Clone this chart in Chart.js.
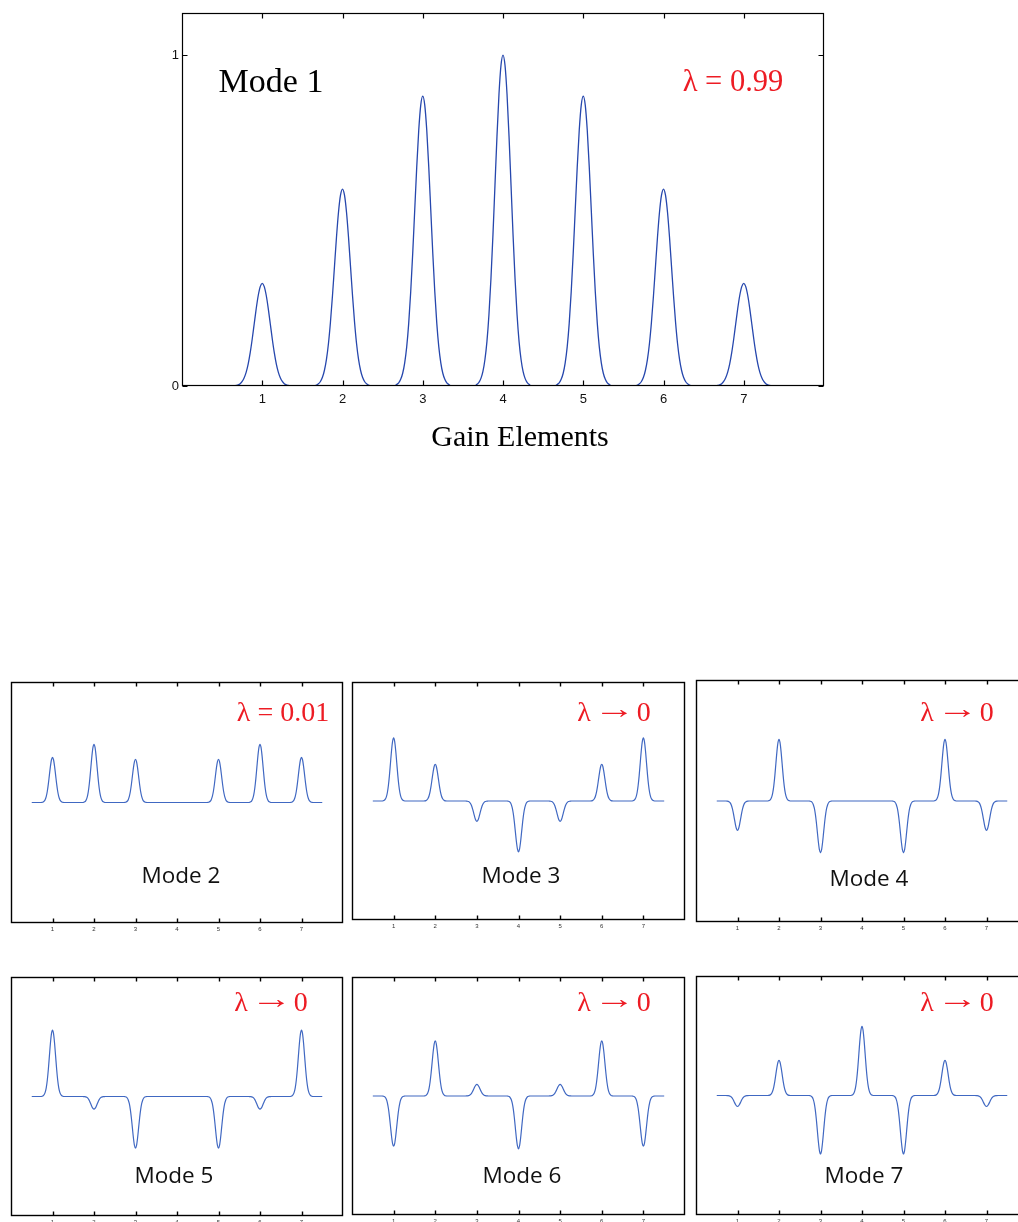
<!DOCTYPE html>
<html>
<head>
<meta charset="utf-8">
<script src="https://cdn.jsdelivr.net/npm/chart.js@4.4.1/dist/chart.umd.min.js"></script>
<style>
  body { margin: 0; background: #fff; width: 1018px; height: 1222px; overflow: hidden; position: relative; }
  canvas { position: absolute; }
  .lbl { position: absolute; transform: translate(-50%, -50%); white-space: pre; line-height: 1; }
  .serif { font-family: 'Liberation Serif', 'Times New Roman', serif; }
  .lam { color: #ed1c24; }
  .arrow { display: inline-block; transform: translateY(-3px) scaleX(1.5); margin: 0 2px; }
  .sans { font-family: 'Open Sans', 'Noto Sans', sans-serif; color: #111; }
</style>
</head>
<body>
<script>
// gain element positions and tick labels
const gainElements = [1, 2, 3, 4, 5, 6, 7];
const curveRange = [0.5, 7.5];
const mainYTicks = [0, 1];

// peak amplitude at each gain element
const mode1 = [0.31, 0.595, 0.876, 1.0, 0.876, 0.595, 0.31];
const mode2 = [0.375, 0.483, 0.359, 0, 0.359, 0.483, 0.375];
const mode3 = [0.53, 0.309, -0.171, -0.428, -0.171, 0.309, 0.53];
const mode4 = [-0.243, 0.51, -0.428, 0, -0.428, 0.51, -0.243];
const mode5 = [0.556, -0.106, -0.433, 0, -0.433, -0.106, 0.556];
const mode6 = [-0.422, 0.464, 0.097, -0.444, 0.097, 0.464, -0.422];
const mode7 = [-0.092, 0.294, -0.489, 0.578, -0.489, 0.294, -0.092];

// one side of a single peak (offset from element, relative height)
const mainPeakOffsets = [0, 0.025, 0.05, 0.075, 0.1, 0.125, 0.15, 0.175, 0.2, 0.225, 0.25, 0.275, 0.3, 0.325, 0.35];
const mainPeakShape = [1, 0.969, 0.882, 0.755, 0.607, 0.458, 0.325, 0.216, 0.135, 0.08, 0.044, 0.023, 0.011, 0.005, 0];
const smallPeakOffsets = [0, 0.025, 0.05, 0.075, 0.1, 0.125, 0.15, 0.175, 0.2, 0.225, 0.25, 0.275];
const smallPeakShape = [1, 0.946, 0.801, 0.607, 0.411, 0.249, 0.135, 0.066, 0.029, 0.011, 0.004, 0];

const modeNames = ['Mode 1', 'Mode 2', 'Mode 3', 'Mode 4', 'Mode 5', 'Mode 6', 'Mode 7'];
const eigenLabels = ['λ = 0.99', 'λ = 0.01', 'λ → 0', 'λ → 0', 'λ → 0', 'λ → 0', 'λ → 0'];
const xTitle = 'Gain Elements';

// page layout of the small panels (plot box on the page)
const smallPanels = [
  { amps: mode2, box: [11, 682, 332, 241], name: [181, 875], lam: [283, 712] },
  { amps: mode3, box: [352, 682, 333, 238], name: [521, 875], lam: [614, 712] },
  { amps: mode4, box: [696, 680, 332, 242], name: [869, 878], lam: [957, 712] },
  { amps: mode5, box: [11, 977, 332, 239], name: [174, 1175], lam: [271, 1002] },
  { amps: mode6, box: [352, 977, 333, 238], name: [522, 1175], lam: [614, 1002] },
  { amps: mode7, box: [696, 976, 332, 239], name: [864, 1175], lam: [957, 1002] }
];

function buildCurve(amps, offsets, shape) {
  const pts = [{ x: curveRange[0], y: 0 }];
  gainElements.forEach((c, i) => {
    for (let k = offsets.length - 1; k > 0; k--) pts.push({ x: c - offsets[k], y: amps[i] * shape[k] });
    for (let k = 0; k < offsets.length; k++) pts.push({ x: c + offsets[k], y: amps[i] * shape[k] });
  });
  pts.push({ x: curveRange[1], y: 0 });
  return pts;
}

// box round the plot with inward ticks, like the original figure
const framePlugin = {
  id: 'frame',
  afterDraw(chart, args, opts) {
    const { ctx, chartArea: a, scales } = chart;
    const l = Math.round(a.left) + 0.5, r = Math.round(a.right) - 0.5;
    const t = Math.round(a.top) + 0.5, b = Math.round(a.bottom) - 0.5;
    ctx.save();
    ctx.strokeStyle = '#000';
    ctx.lineWidth = opts.lineWidth || 1;
    ctx.strokeRect(l, t, r - l, b - t);
    ctx.beginPath();
    gainElements.forEach(v => {
      const px = Math.round(scales.x.getPixelForValue(v)) + 0.5;
      ctx.moveTo(px, t); ctx.lineTo(px, t + opts.len);
      ctx.moveTo(px, b); ctx.lineTo(px, b - opts.len);
    });
    (opts.yTicks || []).forEach(v => {
      const py = Math.round(scales.y.getPixelForValue(v)) + 0.5;
      ctx.moveTo(l, py); ctx.lineTo(l + opts.len, py);
      ctx.moveTo(r, py); ctx.lineTo(r - opts.len, py);
    });
    ctx.stroke();
    ctx.restore();
  }
};

function makeCanvas(left, top, w, h) {
  const c = document.createElement('canvas');
  c.width = w; c.height = h;
  c.style.left = left + 'px'; c.style.top = top + 'px';
  c.style.width = w + 'px'; c.style.height = h + 'px';
  document.body.appendChild(c);
  return c;
}

function addLabel(text, x, y, cls, size) {
  const d = document.createElement('div');
  d.className = 'lbl ' + cls;
  d.style.left = x + 'px'; d.style.top = y + 'px';
  d.style.fontSize = size + 'px';
  // stretch the arrow a little, it is long in the original
  text.split('→').forEach((part, k) => {
    if (k > 0) {
      const a = document.createElement('span');
      a.className = 'arrow';
      a.textContent = '→';
      d.appendChild(a);
    }
    d.appendChild(document.createTextNode(part));
  });
  document.body.appendChild(d);
}

const tickFont = { family: "'Liberation Sans Narrow', 'Liberation Sans', sans-serif", size: 13 };

// main chart: Mode 1
new Chart(makeCanvas(140, 0, 700, 460), {
  type: 'line',
  data: {
    datasets: [{
      data: buildCurve(mode1, mainPeakOffsets, mainPeakShape),
      borderColor: '#2647ad',
      borderWidth: 1.3,
      pointRadius: 0,
      cubicInterpolationMode: 'monotone',
      fill: false
    }]
  },
  options: {
    responsive: false,
    animation: false,
    devicePixelRatio: 1,
    layout: { padding: { left: 0, top: 13, right: 16, bottom: 0 } },
    plugins: { legend: { display: false }, tooltip: { enabled: false }, frame: { lineWidth: 1.2, len: 5, yTicks: mainYTicks } },
    scales: {
      x: {
        type: 'linear', min: 0, max: 8,
        afterBuildTicks: s => { s.ticks = gainElements.map(v => ({ value: v })); },
        afterFit: s => { s.height = 74; },
        grid: { display: false, drawTicks: false }, border: { display: false },
        ticks: { font: tickFont, color: '#111', padding: 6, maxRotation: 0, autoSkip: false }
      },
      y: {
        min: 0, max: 1.127,
        afterBuildTicks: s => { s.ticks = mainYTicks.map(v => ({ value: v })); },
        afterFit: s => { s.width = 42; },
        grid: { display: false, drawTicks: false }, border: { display: false },
        ticks: { font: tickFont, color: '#111', padding: 3 }
      }
    }
  },
  plugins: [framePlugin]
});
addLabel(modeNames[0], 271, 81, 'serif', 34);
addLabel(eigenLabels[0], 733, 81, 'serif lam', 30.5);
addLabel(xTitle, 520, 436, 'serif', 30);

// the six small panels
smallPanels.forEach((p, i) => {
  const [L, T, W, H] = p.box;
  new Chart(makeCanvas(L - 4, T - 4, W + 8, H + 18), {
    type: 'line',
    data: {
      datasets: [{
        data: buildCurve(p.amps, smallPeakOffsets, smallPeakShape),
        borderColor: '#4068c2',
        borderWidth: 1.2,
        pointRadius: 0,
        cubicInterpolationMode: 'monotone',
        fill: false
      }]
    },
    options: {
      responsive: false,
      animation: false,
      devicePixelRatio: 1,
      layout: { padding: { left: 4, top: 4, right: 4, bottom: 0 } },
      plugins: { legend: { display: false }, tooltip: { enabled: false }, frame: { lineWidth: 1.4, len: 4 } },
      scales: {
        x: {
          type: 'linear', min: 0, max: 8,
          afterBuildTicks: s => { s.ticks = gainElements.map(v => ({ value: v })); },
          afterFit: s => { s.height = 14; },
          grid: { display: false, drawTicks: false }, border: { display: false },
          ticks: { font: { family: "'Liberation Sans Narrow', 'Liberation Sans', sans-serif", size: 6 }, color: '#333', padding: 3, maxRotation: 0, autoSkip: false }
        },
        y: { display: false, min: -1, max: 1 }
      }
    },
    plugins: [framePlugin]
  });
  addLabel(modeNames[i + 1], p.name[0], p.name[1], 'sans', 22.5);
  addLabel(eigenLabels[i + 1], p.lam[0], p.lam[1], 'serif lam', 28);
});
</script>
</body>
</html>
